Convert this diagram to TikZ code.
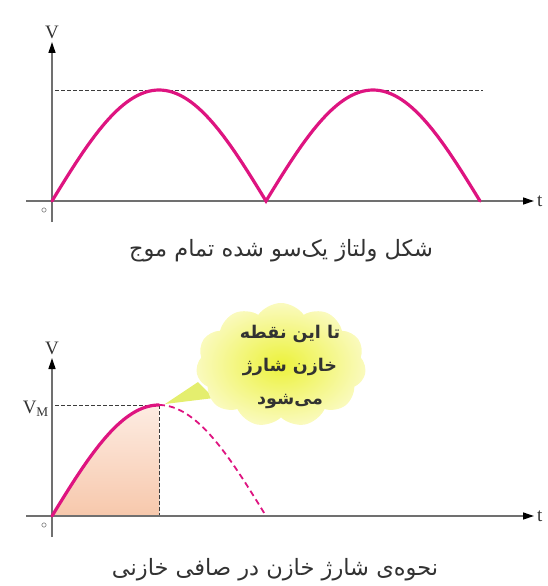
\documentclass[tikz,border=0pt]{standalone}
\usepackage{fontspec}
\setmainfont{Liberation Serif}
\newfontfamily\arabicfont[Script=Arabic]{DejaVu Sans}
\TeXXeTstate=1
\usetikzlibrary{arrows.meta,positioning,shapes.symbols}
\definecolor{wavecol}{RGB}{222,20,128}
\definecolor{axisgray}{RGB}{112,112,112}
\definecolor{guidegray}{RGB}{60,60,60}
\definecolor{shadetop}{RGB}{253,236,226}
\definecolor{shadebot}{RGB}{247,200,172}
\definecolor{cloudin}{RGB}{236,242,60}
\definecolor{cloudout}{RGB}{250,250,190}
\definecolor{tailcol}{RGB}{228,238,110}
\definecolor{textgray}{RGB}{50,50,50}

\begin{document}
\begin{tikzpicture}[x=1pt, y=-1pt,
  axis/.style={draw=axisgray, line width=1.3pt, -{Triangle[length=11pt,width=7pt,color=black]}},
  wave/.style={wavecol, line width=3.2pt, line cap=round},
  wavedash/.style={wavecol, line width=1.8pt, dash pattern=on 6pt off 4pt},
  guide/.style={draw=guidegray, line width=0.8pt, dash pattern=on 3.5pt off 2.5pt},
  lbl/.style={font=\fontsize{19}{20}\selectfont, text=textgray, inner sep=0pt},
  zero/.style={font=\fontsize{12}{12}\selectfont, text=textgray, inner sep=0pt},
  caption/.style={font=\fontsize{22.5}{26}\selectfont\arabicfont, text=textgray, inner sep=0pt},
  cloudbox/.style={cloud, cloud puffs=11, cloud puff arc=110, aspect=1.35,
    minimum width=170pt, minimum height=124pt, inner sep=0pt,
    shading=radial, inner color=cloudin, outer color=cloudout},
  cloudtext/.style={font=\fontsize{17.5}{33}\selectfont\arabicfont\bfseries, text=textgray, align=center, inner sep=0pt},
]
\useasboundingbox (0,0) rectangle (547,586);

\coordinate (O1) at (52,201);
\coordinate (xs1) at (26,201);
\coordinate (xe1) at (534,201);
\coordinate (ys1) at (52,222);
\coordinate (ye1) at (52,42);
\coordinate (ds1) at (55,90);
\coordinate (de1) at (483,90);

\draw[guide] (ds1) -- (de1);
\draw[axis] (xs1) -- (xe1);
\draw[axis] (ys1) -- (ye1);
\draw[wave] plot[domain=0:360, samples=121] ({52+\x/180*214}, {201-111*abs(sin(\x))});
\node[lbl, above=3pt of ye1] (v1) {V};
\node[lbl, anchor=west] (t1) at ([xshift=3pt]xe1) {t};
\node[zero] (z1) at (44,211) {$\circ$};
\node[caption] (cap1) at (281,251) {\beginR شکل ولتاژ یک‌سو شده تمام موج\endR};

\coordinate (O2) at (52,516);
\coordinate (xs2) at (26,516);
\coordinate (xe2) at (534,516);
\coordinate (ys2) at (52,537);
\coordinate (ye2) at (52,358);
\coordinate (P2) at (159,405);
\coordinate (F2) at (159,516);
\coordinate (M2) at (55,405);
\coordinate (tip) at (165,404);
\coordinate (tl1) at (198,382);
\coordinate (tl2) at (214,398);

\fill[top color=shadetop, bottom color=shadebot] (O2) -- plot[domain=0:90, samples=40] ({52+\x/180*214}, {516-111*sin(\x)}) -- (F2) -- cycle;
\draw[guide] (M2) -- (P2);
\draw[guide] (P2) -- (F2);
\draw[axis] (xs2) -- (xe2);
\draw[axis] (ys2) -- (ye2);
\draw[wave] plot[domain=0:90, samples=40] ({52+\x/180*214}, {516-111*sin(\x)});
\draw[wavedash] plot[domain=90:180, samples=40] ({52+\x/180*214}, {516-111*sin(\x)});
\node[lbl, above=3pt of ye2] (v2) {V};
\node[lbl, anchor=east] (vm) at (49,409) {V\textsubscript{M}};
\node[lbl, anchor=west] (t2) at ([xshift=3pt]xe2) {t};
\node[zero] (z2) at (44,526) {$\circ$};

\fill[tailcol] (tl1) -- (tl2) -- (tip) -- cycle;
\node[cloudbox] (cloud) at (281,365) {};
\node[cloudtext] (note) at (290,367) {\beginR تا این نقطه\endR\\\beginR خازن شارژ\endR\\\beginR می‌شود\endR};
\node[caption] (cap2) at (275,570) {\beginR نحوه‌ی شارژ خازن در صافی خازنی\endR};
\end{tikzpicture}
\end{document}
